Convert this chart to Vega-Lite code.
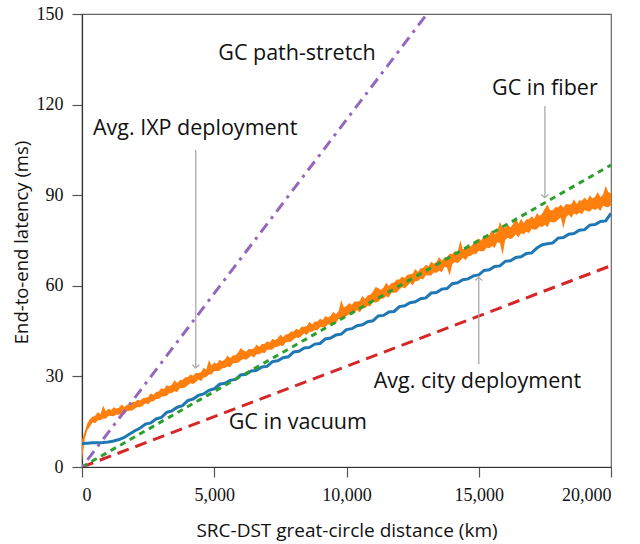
{
  "$schema": "https://vega.github.io/schema/vega-lite/v6.json",
  "width": 529,
  "height": 453,
  "autosize": {"type": "none"},
  "padding": {"left": 82, "top": 14, "right": 29, "bottom": 77},
  "background": "white",
  "config": {
    "view": {"stroke": "#666", "strokeWidth": 1.2},
    "axis": {
      "grid": false,
      "domainColor": "#333",
      "domainWidth": 1.2,
      "tickColor": "#555",
      "tickSize": 10,
      "tickWidth": 1.2,
      "labelFont": "Liberation Serif",
      "labelFontSize": 18,
      "labelColor": "#111",
      "labelPadding": 9,
      "titleFont": "Open Sans",
      "titleFontSize": 18.5,
      "titleFontWeight": "normal",
      "titleColor": "#111"
    }
  },
  "datasets": {
    "ixp": [
      {"x":0,"lo":2,"hi":9},{"x":100,"lo":9.2,"hi":11.6},{"x":200,"lo":12.2,"hi":14.4},{"x":300,"lo":13.4,"hi":15.9},{"x":400,"lo":14.8,"hi":16.6},{"x":500,"lo":14.5,"hi":17.0},{"x":600,"lo":15.5,"hi":18.2},{"x":700,"lo":15.5,"hi":17.5},{"x":800,"lo":16.1,"hi":20.4},{"x":900,"lo":16.0,"hi":18.5},
      {"x":1000,"lo":17.0,"hi":19.3},{"x":1100,"lo":16.9,"hi":18.9},{"x":1200,"lo":16.8,"hi":19.8},{"x":1300,"lo":17.4,"hi":19.3},{"x":1400,"lo":17.3,"hi":19.7},{"x":1500,"lo":17.7,"hi":20.7},{"x":1600,"lo":17.4,"hi":19.9},{"x":1700,"lo":18.5,"hi":20.6},{"x":1800,"lo":18.6,"hi":20.8},{"x":1900,"lo":18.7,"hi":21.5},
      {"x":2000,"lo":19.3,"hi":21.5},{"x":2100,"lo":19.9,"hi":22.3},{"x":2200,"lo":19.8,"hi":22.0},{"x":2300,"lo":20.3,"hi":22.8},{"x":2400,"lo":21.1,"hi":22.9},{"x":2500,"lo":20.7,"hi":23.2},{"x":2600,"lo":21.7,"hi":24.4},{"x":2700,"lo":21.8,"hi":23.8},{"x":2800,"lo":22.5,"hi":24.8},{"x":2900,"lo":22.5,"hi":25.0},
      {"x":3000,"lo":23.3,"hi":26.1},{"x":3100,"lo":23.4,"hi":25.8},{"x":3200,"lo":23.5,"hi":27.1},{"x":3300,"lo":24.4,"hi":26.7},{"x":3400,"lo":24.5,"hi":27.3},{"x":3500,"lo":25.1,"hi":28.7},{"x":3600,"lo":24.8,"hi":27.8},{"x":3700,"lo":26.1,"hi":28.7},{"x":3800,"lo":26.2,"hi":28.8},{"x":3900,"lo":26.3,"hi":29.7},
      {"x":4000,"lo":27.1,"hi":29.7},{"x":4100,"lo":27.7,"hi":30.6},{"x":4200,"lo":27.5,"hi":30.2},{"x":4300,"lo":28.1,"hi":31.1},{"x":4400,"lo":29.0,"hi":31.1},{"x":4500,"lo":28.4,"hi":31.4},{"x":4600,"lo":29.6,"hi":32.9},{"x":4700,"lo":29.8,"hi":32.2},{"x":4800,"lo":30.6,"hi":35.4},{"x":4900,"lo":30.6,"hi":33.6},
      {"x":5000,"lo":31.8,"hi":34.6},{"x":5100,"lo":31.8,"hi":34.2},{"x":5200,"lo":31.9,"hi":35.5},{"x":5300,"lo":32.7,"hi":35.0},{"x":5400,"lo":32.8,"hi":35.6},{"x":5500,"lo":33.3,"hi":36.9},{"x":5600,"lo":33.0,"hi":36.0},{"x":5700,"lo":34.3,"hi":36.9},{"x":5800,"lo":34.4,"hi":37.0},{"x":5900,"lo":34.5,"hi":37.9},
      {"x":6000,"lo":35.3,"hi":39.4},{"x":6100,"lo":35.8,"hi":38.7},{"x":6200,"lo":35.5,"hi":38.2},{"x":6300,"lo":36.1,"hi":39.1},{"x":6400,"lo":36.9,"hi":39.0},{"x":6500,"lo":36.2,"hi":39.2},{"x":6600,"lo":37.3,"hi":40.6},{"x":6700,"lo":37.3,"hi":39.7},{"x":6800,"lo":37.9,"hi":40.7},{"x":6900,"lo":37.7,"hi":40.7},
      {"x":7000,"lo":38.8,"hi":41.6},{"x":7100,"lo":38.8,"hi":41.2},{"x":7200,"lo":38.9,"hi":42.5},{"x":7300,"lo":39.7,"hi":42.0},{"x":7400,"lo":39.8,"hi":42.6},{"x":7500,"lo":40.3,"hi":43.9},{"x":7600,"lo":40.0,"hi":43.0},{"x":7700,"lo":41.3,"hi":43.9},{"x":7800,"lo":41.4,"hi":44.0},{"x":7900,"lo":41.5,"hi":44.9},
      {"x":8000,"lo":42.3,"hi":44.9},{"x":8100,"lo":42.9,"hi":45.8},{"x":8200,"lo":42.7,"hi":45.4},{"x":8300,"lo":43.4,"hi":46.4},{"x":8400,"lo":44.3,"hi":46.4},{"x":8500,"lo":43.7,"hi":46.7},{"x":8600,"lo":44.8,"hi":48.1},{"x":8700,"lo":44.8,"hi":47.2},{"x":8800,"lo":45.4,"hi":48.2},{"x":8900,"lo":45.2,"hi":48.2},
      {"x":9000,"lo":46.3,"hi":49.1},{"x":9100,"lo":46.3,"hi":48.7},{"x":9200,"lo":46.4,"hi":50.0},{"x":9300,"lo":47.2,"hi":49.5},{"x":9400,"lo":47.3,"hi":50.1},{"x":9500,"lo":47.8,"hi":51.4},{"x":9600,"lo":47.6,"hi":50.6},{"x":9700,"lo":49.0,"hi":51.6},{"x":9800,"lo":49.2,"hi":55.3},{"x":9900,"lo":49.4,"hi":52.8},
      {"x":10000,"lo":50.0,"hi":53.3},{"x":10100,"lo":50.7,"hi":54.3},{"x":10200,"lo":50.3,"hi":53.7},{"x":10300,"lo":51.0,"hi":54.8},{"x":10400,"lo":52.0,"hi":54.8},{"x":10500,"lo":51.2,"hi":55.0},{"x":10600,"lo":52.6,"hi":56.7},{"x":10700,"lo":52.6,"hi":55.6},{"x":10800,"lo":53.4,"hi":56.9},{"x":10900,"lo":53.2,"hi":57.0},
      {"x":11000,"lo":54.6,"hi":58.1},{"x":11100,"lo":54.5,"hi":59.6},{"x":11200,"lo":54.7,"hi":59.3},{"x":11300,"lo":55.7,"hi":58.6},{"x":11400,"lo":55.8,"hi":59.4},{"x":11500,"lo":56.5,"hi":61.0},{"x":11600,"lo":56.1,"hi":59.9},{"x":11700,"lo":57.7,"hi":60.9},{"x":11800,"lo":57.7,"hi":61.1},{"x":11900,"lo":57.8,"hi":62.1},
      {"x":12000,"lo":58.8,"hi":62.1},{"x":12100,"lo":59.5,"hi":63.1},{"x":12200,"lo":59.2,"hi":62.6},{"x":12300,"lo":59.9,"hi":63.7},{"x":12400,"lo":61.0,"hi":63.8},{"x":12500,"lo":60.2,"hi":64.0},{"x":12600,"lo":61.5,"hi":65.6},{"x":12700,"lo":61.6,"hi":64.6},{"x":12800,"lo":62.3,"hi":65.8},{"x":12900,"lo":62.2,"hi":66.0},
      {"x":13000,"lo":63.5,"hi":67.0},{"x":13100,"lo":63.4,"hi":66.5},{"x":13200,"lo":63.4,"hi":68.0},{"x":13300,"lo":64.4,"hi":67.3},{"x":13400,"lo":64.3,"hi":67.9},{"x":13500,"lo":65.0,"hi":69.5},{"x":13600,"lo":64.5,"hi":68.3},{"x":13700,"lo":66.2,"hi":69.4},{"x":13800,"lo":66.1,"hi":69.5},{"x":13900,"lo":63.3,"hi":70.6},
      {"x":14000,"lo":67.2,"hi":70.5},{"x":14100,"lo":67.9,"hi":71.5},{"x":14200,"lo":67.5,"hi":70.9},{"x":14300,"lo":68.3,"hi":75.1},{"x":14400,"lo":69.3,"hi":72.1},{"x":14500,"lo":68.5,"hi":72.3},{"x":14600,"lo":69.8,"hi":73.9},{"x":14700,"lo":69.9,"hi":72.9},{"x":14800,"lo":70.6,"hi":74.1},{"x":14900,"lo":70.5,"hi":74.3},
      {"x":15000,"lo":71.6,"hi":75.7},{"x":15100,"lo":71.4,"hi":75.0},{"x":15200,"lo":71.5,"hi":76.9},{"x":15300,"lo":72.6,"hi":76.0},{"x":15400,"lo":72.4,"hi":76.8},{"x":15500,"lo":73.2,"hi":78.6},{"x":15600,"lo":72.5,"hi":77.0},{"x":15700,"lo":74.4,"hi":78.1},{"x":15800,"lo":74.2,"hi":81.2},{"x":15900,"lo":70.3,"hi":79.3},
      {"x":16000,"lo":75.2,"hi":79.2},{"x":16100,"lo":75.9,"hi":80.2},{"x":16200,"lo":75.4,"hi":79.3},{"x":16300,"lo":76.0,"hi":80.5},{"x":16400,"lo":77.1,"hi":82.9},{"x":16500,"lo":76.0,"hi":80.5},{"x":16600,"lo":77.4,"hi":82.2},{"x":16700,"lo":77.1,"hi":80.7},{"x":16800,"lo":77.9,"hi":82.0},{"x":16900,"lo":77.5,"hi":82.0},
      {"x":17000,"lo":78.9,"hi":83.0},{"x":17100,"lo":78.6,"hi":82.2},{"x":17200,"lo":78.7,"hi":84.1},{"x":17300,"lo":79.7,"hi":83.1},{"x":17400,"lo":79.5,"hi":83.9},{"x":17500,"lo":80.2,"hi":85.6},{"x":17600,"lo":79.4,"hi":86.9},{"x":17700,"lo":81.3,"hi":85.0},{"x":17800,"lo":81.0,"hi":85.0},{"x":17900,"lo":81.1,"hi":86.1},
      {"x":18000,"lo":81.9,"hi":85.9},{"x":18100,"lo":82.6,"hi":86.9},{"x":18200,"lo":79.0,"hi":85.9},{"x":18300,"lo":82.6,"hi":87.1},{"x":18400,"lo":83.6,"hi":86.9},{"x":18500,"lo":82.5,"hi":87.0},{"x":18600,"lo":83.9,"hi":88.7},{"x":18700,"lo":83.5,"hi":87.1},{"x":18800,"lo":84.2,"hi":88.3},{"x":18900,"lo":83.7,"hi":88.2},
      {"x":19000,"lo":85.1,"hi":89.2},{"x":19100,"lo":84.7,"hi":88.3},{"x":19200,"lo":84.6,"hi":90.0},{"x":19300,"lo":85.5,"hi":88.9},{"x":19400,"lo":85.1,"hi":89.5},{"x":19500,"lo":85.7,"hi":91.1},{"x":19600,"lo":84.8,"hi":89.3},{"x":19700,"lo":86.5,"hi":90.2},{"x":19800,"lo":86.1,"hi":93.1},{"x":19900,"lo":86.0,"hi":91.0},
      {"x":20000,"lo":86.7,"hi":90.7}
    ],
    "city": [
      {"x":0,"y":7.8},{"x":200,"y":7.9},{"x":400,"y":8.0},{"x":600,"y":8.0},{"x":800,"y":8.1},{"x":1000,"y":8.3},{"x":1200,"y":8.6},{"x":1400,"y":9.1},{"x":1600,"y":9.8},{"x":1800,"y":10.9},
      {"x":2000,"y":12.0},{"x":2200,"y":12.9},{"x":2400,"y":14.2},{"x":2600,"y":14.6},{"x":2800,"y":15.9},{"x":3000,"y":16.4},{"x":3200,"y":18.1},{"x":3400,"y":18.6},{"x":3600,"y":19.8},{"x":3800,"y":20.3},
      {"x":4000,"y":22.0},{"x":4200,"y":22.5},{"x":4400,"y":23.7},{"x":4600,"y":24.2},{"x":4800,"y":25.4},{"x":5000,"y":25.9},{"x":5200,"y":27.4},{"x":5400,"y":27.7},{"x":5600,"y":28.7},{"x":5800,"y":29.0},
      {"x":6000,"y":30.5},{"x":6200,"y":30.7},{"x":6400,"y":31.8},{"x":6600,"y":32.0},{"x":6800,"y":33.1},{"x":7000,"y":33.3},{"x":7200,"y":34.9},{"x":7400,"y":35.2},{"x":7600,"y":36.2},{"x":7800,"y":36.5},
      {"x":8000,"y":38.1},{"x":8200,"y":38.3},{"x":8400,"y":39.4},{"x":8600,"y":39.6},{"x":8800,"y":40.7},{"x":9000,"y":40.9},{"x":9200,"y":42.4},{"x":9400,"y":42.7},{"x":9600,"y":43.7},{"x":9800,"y":44.0},
      {"x":10000,"y":45.5},{"x":10200,"y":45.8},{"x":10400,"y":46.8},{"x":10600,"y":47.1},{"x":10800,"y":48.1},{"x":11000,"y":48.4},{"x":11200,"y":50.0},{"x":11400,"y":50.2},{"x":11600,"y":51.3},{"x":11800,"y":51.5},
      {"x":12000,"y":53.1},{"x":12200,"y":53.4},{"x":12400,"y":54.4},{"x":12600,"y":54.7},{"x":12800,"y":55.7},{"x":13000,"y":56.0},{"x":13200,"y":57.6},{"x":13400,"y":57.8},{"x":13600,"y":58.9},{"x":13800,"y":59.1},
      {"x":14000,"y":60.7},{"x":14200,"y":61.0},{"x":14400,"y":62.0},{"x":14600,"y":62.3},{"x":14800,"y":63.3},{"x":15000,"y":63.6},{"x":15200,"y":65.1},{"x":15400,"y":65.3},{"x":15600,"y":66.4},{"x":15800,"y":66.6},
      {"x":16000,"y":68.1},{"x":16200,"y":68.3},{"x":16400,"y":69.4},{"x":16600,"y":69.6},{"x":16800,"y":70.7},{"x":17000,"y":70.9},{"x":17200,"y":72.5},{"x":17400,"y":73.6},{"x":17600,"y":73.9},{"x":17800,"y":74.2},
      {"x":18000,"y":75.8},{"x":18200,"y":76.0},{"x":18400,"y":77.1},{"x":18600,"y":77.3},{"x":18800,"y":78.4},{"x":19000,"y":78.6},{"x":19200,"y":80.1},{"x":19400,"y":80.3},{"x":19600,"y":81.3},{"x":19800,"y":81.5},
      {"x":20000,"y":84.0}
    ],
    "ref": [
      {"s":"vacuum","x":0,"y":0},{"s":"vacuum","x":20000,"y":66.67},
      {"s":"fiber","x":0,"y":0},{"s":"fiber","x":20000,"y":100},
      {"s":"stretch","x":0,"y":0},{"s":"stretch","x":13043,"y":150}
    ],
    "arrows": [
      {"dir":"down","x":4300,"y":105,"y2":32.8},
      {"dir":"down","x":17500,"y":119.5,"y2":89.2},
      {"dir":"up","x":15000,"y":34,"y2":62.8}
    ],
    "labels": [
      {"label":"GC path-stretch","x":8129,"y":136.8},
      {"label":"GC in fiber","x":17500,"y":125.2},
      {"label":"Avg. IXP deployment","x":4280,"y":111.9},
      {"label":"Avg. city deployment","x":14950,"y":28.0},
      {"label":"GC in vacuum","x":8160,"y":14.5}
    ]
  },
  "layer": [
    {
      "data": {"name": "ixp"},
      "mark": {"type": "area", "color": "#ff7f0e", "opacity": 1, "clip": true},
      "encoding": {
        "x": {"field": "x", "type": "quantitative", "scale": {"domain": [0, 20000], "nice": false},
          "axis": {"values": [0, 5000, 10000, 15000, 20000], "format": ",.0f", "title": "SRC-DST great-circle distance (km)", "titleFontSize": 19, "titleBaseline": "alphabetic", "titleY": 69}},
        "y": {"field": "lo", "type": "quantitative", "scale": {"domain": [0, 150], "nice": false},
          "axis": {"values": [0, 30, 60, 90, 120, 150], "title": "End-to-end latency (ms)", "titleBaseline": "alphabetic", "titleX": -55, "titleY": 228}},
        "y2": {"field": "hi"}
      }
    },
    {
      "data": {"name": "city"},
      "mark": {"type": "line", "color": "#1f77b4", "strokeWidth": 3, "clip": true},
      "encoding": {
        "x": {"field": "x", "type": "quantitative"},
        "y": {"field": "y", "type": "quantitative"}
      }
    },
    {
      "data": {"name": "ref"},
      "transform": [{"filter": "datum.s === 'vacuum'"}],
      "mark": {"type": "line", "color": "#d62728", "strokeWidth": 3, "strokeDash": [12, 7], "clip": true},
      "encoding": {
        "x": {"field": "x", "type": "quantitative"},
        "y": {"field": "y", "type": "quantitative"}
      }
    },
    {
      "data": {"name": "ref"},
      "transform": [{"filter": "datum.s === 'fiber'"}],
      "mark": {"type": "line", "color": "#2ca02c", "strokeWidth": 3, "strokeDash": [6, 5], "clip": true},
      "encoding": {
        "x": {"field": "x", "type": "quantitative"},
        "y": {"field": "y", "type": "quantitative"}
      }
    },
    {
      "data": {"name": "ref"},
      "transform": [{"filter": "datum.s === 'stretch'"}],
      "mark": {"type": "line", "color": "#9467bd", "strokeWidth": 3, "strokeDash": [3, 6, 11, 6], "clip": true},
      "encoding": {
        "x": {"field": "x", "type": "quantitative"},
        "y": {"field": "y", "type": "quantitative"}
      }
    },
    {
      "data": {"name": "arrows"},
      "mark": {"type": "rule", "color": "#aaaaaa", "strokeWidth": 1.3},
      "encoding": {
        "x": {"field": "x", "type": "quantitative"},
        "y": {"field": "y", "type": "quantitative"},
        "y2": {"field": "y2"}
      }
    },
    {
      "data": {"name": "arrows"},
      "mark": {"type": "point", "filled": false, "color": "#aaaaaa", "strokeWidth": 1.3, "size": 49, "opacity": 1},
      "encoding": {
        "x": {"field": "x", "type": "quantitative"},
        "y": {"field": "y2", "type": "quantitative"},
        "shape": {"field": "dir", "type": "nominal", "legend": null,
          "scale": {"domain": ["down", "up"], "range": ["M-1,-0.9L0,0L1,-0.9", "M-1,0.9L0,0L1,0.9"]}}
      }
    },
    {
      "data": {"name": "labels"},
      "mark": {"type": "text", "font": "Open Sans", "fontSize": 21.5, "color": "#111", "align": "center", "baseline": "middle"},
      "encoding": {
        "x": {"field": "x", "type": "quantitative"},
        "y": {"field": "y", "type": "quantitative"},
        "text": {"field": "label"}
      }
    }
  ]
}
